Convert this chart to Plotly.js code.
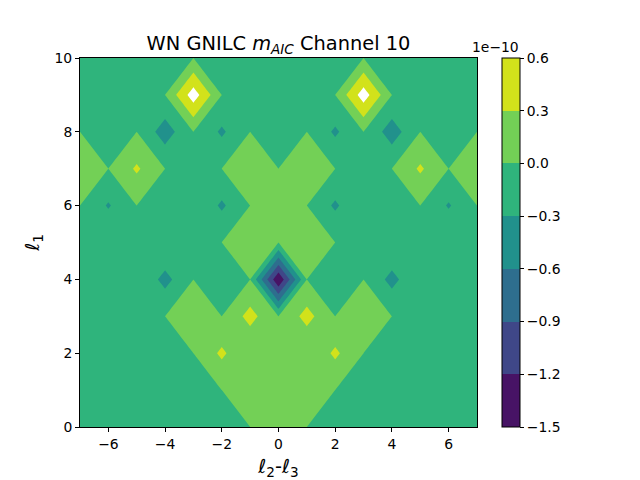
<!DOCTYPE html>
<html>
<head>
<meta charset="utf-8">
<script src="https://cdn.plot.ly/plotly-3.0.1.min.js"></script>
<style>body{margin:0;background:#fff}</style>
</head>
<body>
<div id="graf" style="width:640px;height:480px"></div>
<script>
var l2minusl3 = [-7,-6,-5,-4,-3,-2,-1,0,1,2,3,4,5,6,7];
var l1 = [0,1,2,3,4,5,6,7,8,9,10];

// values in units of 1e-10, one row per l1
var row0  = [0,0,0,0,0,0,0,0.2,0,0,0,0,0,0,0];
var row1  = [0,0,0,0,0,0,0.2,0,0.2,0,0,0,0,0,0];
var row2  = [0,0,0,0,0,0.36,0,0.2,0,0.36,0,0,0,0,0];
var row3  = [0,0,0,0,0.2,0,0.41,0,0.41,0,0.2,0,0,0,0];
var row4  = [0,0,0,-0.4,0,0,0,-1.48,0,0,0,-0.4,0,0,0];
var row5  = [0,0,0,0,0,0,0.2,0,0.2,0,0,0,0,0,0];
var row6  = [0,-0.33,0,0,0,-0.35,0,0.2,0,-0.35,0,0,0,-0.33,0];
var row7  = [0.2,0,0.345,0,0,0,0.2,0,0.2,0,0,0,0.345,0,0.2];
var row8  = [0,0,0,-0.46,0,-0.35,0,0,0,-0.35,0,-0.46,0,0,0];
var row9  = [0,0,0,0,0.76,0,0,0,0,0,0.76,0,0,0,0];
var row10 = [0,0,0,0,0,0,0,0,0,0,0,0,0,0,0];
var zvals = [row0,row1,row2,row3,row4,row5,row6,row7,row8,row9,row10];

var levelStart = -1.5, levelEnd = 0.6, levelStep = 0.3;
var bandColors = ['#471365','#3f4788','#2e6e8e','#21918c','#2fb47c','#73d056','#d2e21b'];

var scale = [];
for (var i = 0; i < bandColors.length; i++) {
    scale.push([i/bandColors.length, bandColors[i]]);
    scale.push([(i+1)/bandColors.length, bandColors[i]]);
}

var font = {family:'DejaVu Sans', color:'#000', size:13.9};

var data = [{
    type:'contour', x:l2minusl3, y:l1, z:zvals,
    autocontour:false,
    contours:{start:levelStart, end:levelEnd, size:levelStep, coloring:'fill', showlines:false},
    line:{width:0, smoothing:0},
    zmin:levelStart, zmax:levelEnd,
    colorscale:scale,
    hoverinfo:'skip',
    colorbar:{
        x:1.064, xanchor:'left', xpad:0,
        y:0, yanchor:'bottom', ypad:0,
        len:1, lenmode:'fraction',
        thickness:18,
        outlinewidth:1, outlinecolor:'#000',
        ticks:'outside', ticklen:4, tickwidth:1, tickcolor:'#000',
        tick0:-1.5, dtick:0.3, tickformat:'.1f',
        tickfont:font
    }
},{
    // above the top level matplotlib leaves the area unfilled
    // (a constraint trace paints the side that fails the test)
    type:'contour', x:l2minusl3, y:l1, z:zvals,
    contours:{type:'constraint', operation:'<', value:levelEnd},
    fillcolor:'#fff',
    line:{width:0, smoothing:0},
    showscale:false,
    hoverinfo:'skip'
}];

var layout = {
    width:640, height:480,
    margin:{l:80, r:163, t:58, b:53},
    paper_bgcolor:'#fff', plot_bgcolor:'#fff',
    font:font,
    showlegend:false,
    title:{
        text:'WN GNILC <i>m</i><sub><i>AIC</i></sub> Channel 10',
        font:{family:'DejaVu Sans', size:19.4, color:'#000'},
        xref:'paper', x:0.5, xanchor:'center',
        yref:'paper', y:1, yanchor:'bottom', pad:{b:8}
    },
    xaxis:{
        range:[-7,7], tick0:0, dtick:2,
        ticks:'outside', ticklen:4, tickwidth:1, tickcolor:'#000',
        showgrid:false, zeroline:false,
        showline:true, mirror:true, linecolor:'#000', linewidth:1,
        tickfont:font,
        title:{text:'<i>ℓ</i><sub>2</sub>-<i>ℓ</i><sub>3</sub>', font:{family:'DejaVu Sans', size:19.4, color:'#000'}, standoff:8}
    },
    yaxis:{
        range:[0,10], tick0:0, dtick:2,
        ticks:'outside', ticklen:4, tickwidth:1, tickcolor:'#000',
        showgrid:false, zeroline:false,
        showline:true, mirror:true, linecolor:'#000', linewidth:1,
        tickfont:font,
        title:{text:'<i>ℓ</i><sub>1</sub>', font:{family:'DejaVu Sans', size:19.4, color:'#000'}, standoff:9}
    },
    annotations:[{
        text:'1e\u221210', xref:'paper', yref:'paper',
        x:1.11, y:1, xanchor:'right', yanchor:'bottom', yshift:1,
        showarrow:false, font:font
    }]
};

Plotly.newPlot('graf', data, layout, {displayModeBar:false});
</script>
</body>
</html>
